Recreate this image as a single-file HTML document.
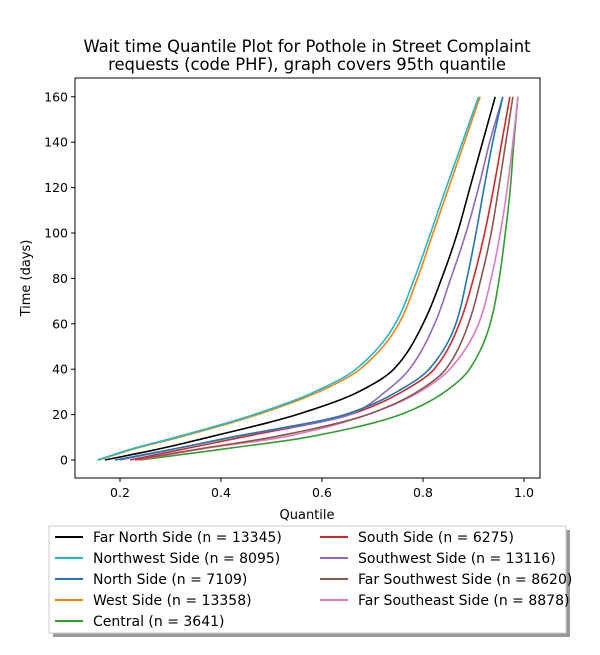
<!DOCTYPE html>
<html><head><meta charset="utf-8"><style>
body{margin:0;background:#fff;}
svg text{font-family:"DejaVu Sans","Liberation Sans",sans-serif;fill:#000;}
</style></head><body>
<svg width="600" height="650" xmlns="http://www.w3.org/2000/svg">
<rect width="600" height="650" fill="#fff"/>
<text x="307" y="52" font-size="16.4" text-anchor="middle">Wait time Quantile Plot for Pothole in Street Complaint</text>
<text x="307" y="70" font-size="16.4" text-anchor="middle">requests (code PHF), graph covers 95th quantile</text>
<g id="plot"></g>
<rect x="75" y="78" width="465" height="400" fill="none" stroke="#000" stroke-width="1"/>
<g id="axes"></g>
<text x="307" y="519" font-size="13" text-anchor="middle">Quantile</text>
<text transform="translate(30,278) rotate(-90)" font-size="13" text-anchor="middle">Time (days)</text>
<rect x="53" y="530" width="517" height="107" fill="#999"/>
<rect x="49" y="526" width="517" height="107" fill="#fff" stroke="#ccc"/>
<g id="legend"></g>
</svg>
<script>
const days=[0,5,10,20,30,40,60,80,100,120,140,160];
const names=["Far North Side (n = 13345)","Northwest Side (n = 8095)","North Side (n = 7109)","West Side (n = 13358)","Central (n = 3641)","South Side (n = 6275)","Southwest Side (n = 13116)","Far Southwest Side (n = 8620)","Far Southeast Side (n = 8878)"];
const colors=["#000000","#17becf","#1f77b4","#ff7f0e","#2ca02c","#d62728","#9467bd","#8c564b","#e377c2"];
const qFarNorth=[0.17,0.28,0.375,0.55,0.672,0.742,0.80,0.837,0.868,0.893,0.918,0.943];
const qNorthwest=[0.155,0.225,0.31,0.465,0.585,0.667,0.745,0.783,0.815,0.846,0.878,0.91];
const qNorth=[0.19,0.31,0.42,0.645,0.748,0.812,0.865,0.887,0.905,0.921,0.938,0.958];
const qWest=[0.158,0.23,0.317,0.472,0.593,0.675,0.752,0.789,0.82,0.851,0.882,0.913];
const qCentral=[0.24,0.41,0.57,0.755,0.843,0.892,0.933,0.951,0.963,0.973,0.980,0.988];
const qSouth=[0.22,0.33,0.44,0.655,0.758,0.822,0.872,0.90,0.922,0.94,0.956,0.972];
const qSouthwest=[0.2,0.31,0.42,0.655,0.725,0.773,0.823,0.855,0.885,0.91,0.932,0.958];
const qFarSouthwest=[0.23,0.36,0.50,0.69,0.788,0.845,0.89,0.915,0.935,0.95,0.964,0.978];
const qFarSoutheast=[0.235,0.365,0.52,0.69,0.793,0.853,0.91,0.935,0.953,0.967,0.978,0.988];
const series=[qFarNorth,qNorthwest,qNorth,qWest,qCentral,qSouth,qSouthwest,qFarSouthwest,qFarSoutheast];
const xTicks=[0.2,0.4,0.6,0.8,1.0];
const yTicks=[0,20,40,60,80,100,120,140,160];
const NS="http://www.w3.org/2000/svg";
const xs=q=>19+505*q, ys=d=>460-2.27*d;
const plot=document.getElementById('plot'),axes=document.getElementById('axes'),leg=document.getElementById('legend');
function mk(t,a,p){const e=document.createElementNS(NS,t);for(const k in a)e.setAttribute(k,a[k]);p.appendChild(e);return e;}
function monotone(X,Y){const n=X.length,h=[],s=[],m=[];
for(let i=0;i<n-1;i++){h[i]=X[i+1]-X[i];s[i]=(Y[i+1]-Y[i])/h[i];}
m[0]=s[0];m[n-1]=s[n-2];
for(let i=1;i<n-1;i++){if(s[i-1]*s[i]<=0)m[i]=0;else{const w1=2*h[i]+h[i-1],w2=h[i]+2*h[i-1];m[i]=(w1+w2)/(w1/s[i-1]+w2/s[i]);}}
return x=>{let i=0;while(i<n-2&&x>X[i+1])i++;const t=(x-X[i])/h[i],t2=t*t,t3=t2*t;
return (2*t3-3*t2+1)*Y[i]+(t3-2*t2+t)*h[i]*m[i]+(-2*t3+3*t2)*Y[i+1]+(t3-t2)*h[i]*m[i+1];};}
function pathFor(q){const f=monotone(days,q);let d='';
for(let v=0;v<=days[days.length-1];v+=0.5){d+=(v?' L':'M')+xs(f(v)).toFixed(2)+','+ys(v).toFixed(2);}return d;}
const order=[4,8,7,5,6,2,0,3,1];
order.forEach(i=>{const e=mk('path',{d:pathFor(series[i]),fill:'none',stroke:colors[i],'stroke-width':1.6,'stroke-linejoin':'round'},plot);

});
xTicks.forEach(t=>{const x=xs(t);mk('line',{x1:x,x2:x,y1:478,y2:482,stroke:'#000'},axes);
const e=mk('text',{x:x,y:497,'font-size':12.5,'text-anchor':'middle'},axes);e.textContent=t.toFixed(1);

});
yTicks.forEach(t=>{const y=ys(t);mk('line',{x1:71,x2:75,y1:y,y2:y,stroke:'#000'},axes);
const e=mk('text',{x:68,y:y+4.5,'font-size':12.5,'text-anchor':'end'},axes);e.textContent=t;

});
names.forEach((n,i)=>{const col=i<5?0:1,row=i<5?i:i-5;const x0=col?320:55,y=537+row*21;
mk('line',{x1:x0,x2:x0+28,y1:y,y2:y,stroke:colors[i],'stroke-width':2},leg);
const e=mk('text',{x:x0+38,y:y+5,'font-size':14},leg);e.textContent=n;

});
</script>
</body></html>
